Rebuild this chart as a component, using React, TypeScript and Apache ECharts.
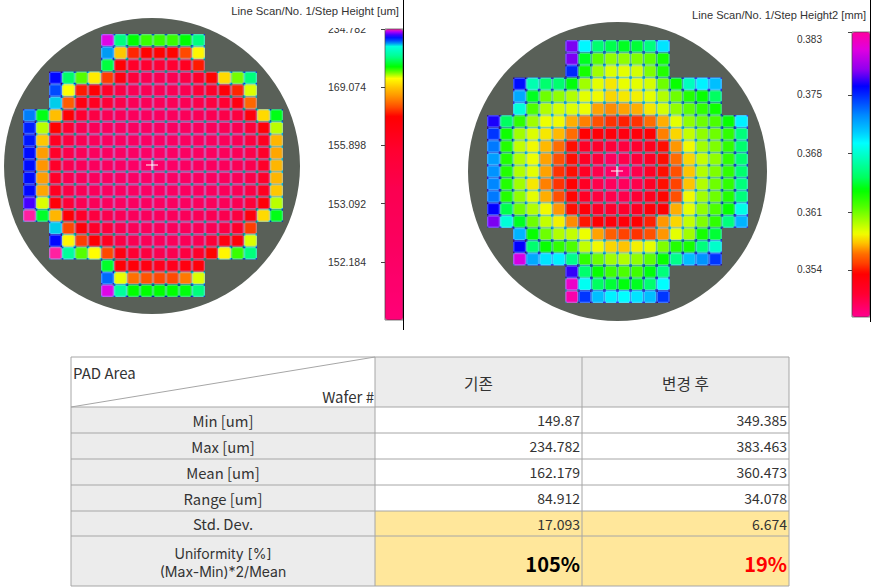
import React, { useEffect, useRef } from "react";
import * as echarts from "echarts";

// Each cell is its position on the wafer's own colour bar: 0 = bottom of the bar, 100 = top.
const leftLevels: number[][] = [
  [99.6, 90, 87, 86, 86, 86, 87, 90],
  [95, 80, 71.5, 70, 70, 70, 73, 82.5],
  [88.5, 69, 60, 58, 56, 58, 62, 71],
  [97.3, 89.5, 85.5, 82, 72.5, 66, 55, 45, 45, 45, 50, 60, 70, 81, 85, 90],
  [96, 83, 71, 69, 60, 50, 40, 40, 40, 40, 45, 55, 60, 68, 71.5, 83.5],
  [94.5, 74, 66, 62, 56, 48, 38, 36, 36, 38, 40, 48, 52, 58, 66, 74.5],
  [95.3, 87.5, 79.5, 69, 58, 50, 40, 35, 30, 28, 28, 30, 34, 38, 42, 48, 52, 67, 81, 87.5],
  [96.8, 84, 70, 58, 46, 38, 30, 28, 26, 24, 24, 26, 28, 30, 34, 40, 44, 55, 68, 84],
  [97, 80, 62, 52, 42, 34, 28, 26, 24, 22, 22, 24, 26, 28, 30, 34, 40, 52, 62, 79],
  [97.2, 77.5, 60, 48, 38, 30, 26, 24, 22, 20, 20, 22, 24, 26, 28, 32, 38, 48, 60, 78],
  [97.2, 77, 60, 46, 36, 30, 26, 22, 20, 18, 18, 20, 24, 26, 28, 32, 38, 46, 60, 79],
  [97.2, 77.5, 60, 46, 38, 30, 26, 24, 22, 20, 20, 22, 24, 26, 28, 32, 38, 48, 60, 79],
  [97.3, 78, 62, 50, 40, 32, 28, 26, 24, 22, 22, 24, 26, 28, 30, 34, 40, 50, 62, 80],
  [98, 83.5, 68, 56, 44, 36, 30, 28, 26, 26, 26, 26, 28, 30, 32, 36, 42, 55, 68, 84],
  [100, 88, 79, 69, 60, 52, 46, 38, 32, 30, 30, 32, 34, 38, 42, 46, 52, 67, 81, 87.5],
  [94.5, 73, 68, 60, 54, 46, 38, 34, 32, 32, 34, 38, 42, 50, 60, 72.5],
  [97.3, 82.5, 72.5, 69.5, 62, 50, 44, 38, 34, 34, 38, 44, 56, 66, 68, 83.5],
  [100, 91, 85.5, 83, 73, 66, 58, 52, 46, 46, 52, 60, 70, 82.5, 86, 90],
  [88, 69, 68, 66, 63, 63, 66, 68],
  [95.5, 83.3, 75, 73.5, 73, 73, 75.5, 83.5],
  [99.6, 91, 87, 87, 87, 87, 87.3, 90],
];

const rightLevels: number[][] = [
  [86, 61.5, 50, 48, 46, 47, 51, 63],
  [86, 46, 38, 35, 35, 36, 38, 43],
  [78, 43, 34, 30.5, 30, 31, 36, 42],
  [80, 55, 50, 50, 45, 34, 30, 28, 29.7, 30, 31, 37, 44, 56, 62, 66],
  [68, 46, 37, 35, 33, 30, 29, 27, 28, 28.5, 30, 33, 37, 42, 44, 49],
  [58, 39, 33, 31, 30.5, 29.5, 24.5, 23.5, 24.5, 25, 28, 31, 35, 38, 41, 43.5],
  [82, 49, 41, 34, 29.5, 29, 25, 23, 20, 18, 17, 18, 22, 25, 30, 35, 37, 39, 44, 62],
  [77, 43.5, 34, 30.5, 28, 25.5, 22, 15, 14.5, 14, 13, 14, 15, 23, 27, 32, 35, 37, 41, 51],
  [72, 42, 32, 29, 25.5, 22, 16, 10, 9, 7.5, 7, 8.5, 11, 16, 24, 29, 34, 36, 41, 50],
  [69, 42, 33, 29.5, 24.5, 20, 16, 10, 7.5, 4.5, 6, 7.5, 10, 16, 22, 27, 32, 35, 41, 50],
  [70, 42, 33, 30, 24.5, 18, 16, 10, 6, 4, 3, 6, 10, 16, 20, 26, 33, 36, 41, 50],
  [71, 42, 34, 28, 23, 18, 15, 10, 6, 4.5, 4.5, 6, 10, 16, 19, 26, 33, 37, 41, 51],
  [72, 42, 35, 30, 25, 20, 15.5, 10, 7, 6, 6, 8, 11, 15.5, 20, 29, 34, 37, 42, 51],
  [81, 48, 37, 33, 29, 24, 16, 14, 10, 9, 9, 10.5, 14, 15, 25, 30, 35, 39, 44, 59],
  [86, 58, 46, 37, 32, 28.5, 23.5, 16.5, 15, 14, 14, 15, 17, 24, 27, 32, 36, 41, 51, 67],
  [67, 44, 37, 33, 32, 29.5, 24.5, 21, 19, 18, 20, 24, 30, 34, 43, 47],
  [81, 50, 44, 41, 39, 32, 29, 27, 26, 28.5, 30, 36, 42, 43, 51, 57],
  [93, 68, 63, 62, 52, 41, 37, 34, 33, 35, 38, 44, 52, 66, 70, 77],
  [83, 50, 44, 40, 39, 40, 45, 51],
  [96, 60, 49, 47, 45, 46, 50, 61],
  [99, 77, 66, 62, 61, 63, 66, 77],
];

const leftTickLabels = ["152.184", "153.092", "155.898", "169.074", "234.782"];
const leftTickPositions = [20, 40, 60, 80, 100];
const rightTickLabels = ["0.354", "0.361", "0.368", "0.375", "0.383"];
const rightTickPositions = [16.5, 36.8, 57.4, 77.9, 100];

const leftTitle = "Line Scan/No. 1/Step Height [um]";
const rightTitle = "Line Scan/No. 1/Step Height2 [mm]";

const tableCorner = ["PAD Area", "Wafer #"];
const tableHeaders = ["기존", "변경 후"];
const tableLabels = ["Min [um]", "Max [um]", "Mean [um]", "Range [um]", "Std. Dev."];
const beforeValues = ["149.87", "234.782", "162.179", "84.912", "17.093"];
const afterValues = ["349.385", "383.463", "360.473", "34.078", "6.674"];
const uniformityLabel = ["Uniformity [%]", "(Max-Min)*2/Mean"];
const uniformityBefore = "105%";
const uniformityAfter = "19%";

type Stop = [number, string];
const leftStops: Stop[] = [
  [0, "#ff0078"], [25, "#fb0060"], [45, "#fb0050"], [58.4, "#ff0030"], [69.9, "#ff0000"], [73.3, "#ff5000"],
  [76.7, "#ff9000"], [79.6, "#ffc000"], [83, "#ffff00"], [85.3, "#60ff00"], [87, "#00ff00"],
  [90.5, "#00ff90"], [94, "#00ffe0"], [95.6, "#0060ff"], [97.4, "#0000ff"], [98.5, "#8000ff"],
  [99.6, "#e000f0"], [100, "#ff20a0"],
];
const rightStops: Stop[] = [
  [0, "#ff0090"], [8.2, "#ff0030"], [15.2, "#ff0000"], [18.8, "#ff4000"], [22.3, "#ff7000"],
  [25.8, "#ffc000"], [29.3, "#f0ff00"], [34, "#a0ff00"], [38.7, "#50ff00"], [44.5, "#00ff00"],
  [49, "#00ff60"], [55, "#00ffb0"], [61, "#00ffff"], [64.5, "#00d0ff"], [70.3, "#0090ff"],
  [76.2, "#0040ff"], [80.9, "#0000ff"], [86.8, "#9000f0"], [93.8, "#e000e0"], [100, "#ff00a0"],
];

function ramp(stops: Stop[], n = 400): string[] {
  const out: string[] = [];
  for (let i = 0; i <= n; i++) {
    const p = (i / n) * 100;
    let k = 0;
    while (k < stops.length - 2 && stops[k + 1][0] < p) k++;
    const [p0, c0] = stops[k];
    const [p1, c1] = stops[k + 1];
    const t = Math.min(1, Math.max(0, (p - p0) / (p1 - p0)));
    const a = echarts.color.parse(c0);
    const b = echarts.color.parse(c1);
    out.push(`rgb(${[0, 1, 2].map((j) => Math.round(a[j] + (b[j] - a[j]) * t)).join(",")})`);
  }
  return out;
}

const cols = Array.from({ length: 20 }, (_, i) => String(i));
const rowsCat = Array.from({ length: 21 }, (_, i) => String(i));
function toCells(rows: number[][]) {
  const out: number[][] = [];
  rows.forEach((row, y) => {
    const start = (20 - row.length) / 2;
    row.forEach((v, i) => out.push([start + i, y, v]));
  });
  return out;
}

function renderCell(_: unknown, api: any) {
  const [cx, cy] = api.coord([api.value(0), api.value(1)]);
  const [w, h] = api.size([1, 1]);
  const [r, g, b] = echarts.color.parse(api.visual("color"));
  const x = cx - w / 2;
  const y = cy - h / 2;
  const cross = `rgb(${Math.round(b * 0.2)},${Math.round(r * 0.6 + g * 0.2)},${Math.round(r * 0.45 + g * 0.65 + b * 0.4)})`;
  const edge = `rgb(${Math.round(r * 0.6 + 60)},${Math.round(g * 0.6 + 80)},${Math.round(b * 0.6 + 110)})`;
  const inset = 1.35;
  return {
    type: "group",
    silent: true,
    children: [
      { type: "rect", shape: { x, y, width: w, height: h }, style: { fill: cross } },
      { type: "rect", shape: { x: x + inset, y, width: w - 2 * inset, height: h }, style: { fill: edge } },
      { type: "rect", shape: { x, y: y + inset, width: w, height: h - 2 * inset }, style: { fill: edge } },
      { type: "rect", shape: { x: x + inset, y: y + inset, width: w - 2 * inset, height: h - 2 * inset }, style: { fill: `rgb(${r},${g},${b})` } },
    ],
  };
}

const LINE = "#a6a6a6";
const GRAY = "#ececec";
const YELLOW = "#ffe79b";
const TXT = "#333";
const FONT = '"Noto Sans CJK KR", "Noto Sans", sans-serif';
const colX = [71, 375, 582, 789];
const rowY = [357, 407, 433, 459, 485, 511, 536, 586];

function tableElements() {
  const els: any[] = [];
  const rect = (x: number, y: number, w: number, h: number, fill: string) =>
    els.push({ type: "rect", z: 5, shape: { x, y, width: w, height: h }, style: { fill } });
  const line = (x1: number, y1: number, x2: number, y2: number, w = 1) =>
    els.push({ type: "line", z: 6, shape: { x1, y1, x2, y2 }, style: { stroke: LINE, lineWidth: w } });
  const text = (x: number, y: number, t: string, align: string, size = 14, extra: any = {}) =>
    els.push({
      type: "text", z: 7, x, y,
      style: { text: t, align, verticalAlign: "middle", fontFamily: FONT, fontSize: size, fill: TXT, ...extra },
    });

  rect(colX[1], rowY[0], colX[3] - colX[1], rowY[1] - rowY[0], GRAY);
  rect(colX[0], rowY[1], colX[1] - colX[0], rowY[7] - rowY[1], GRAY);
  rect(colX[1], rowY[5], colX[3] - colX[1], rowY[7] - rowY[5], YELLOW);
  rowY.forEach((y) => line(colX[0], y, colX[3], y));
  colX.forEach((x) => line(x, rowY[0], x, rowY[7]));
  line(colX[0], rowY[1], colX[1], rowY[0]);

  text(73, 372, tableCorner[0], "left", 15);
  text(374, 396, tableCorner[1], "right", 15);
  tableHeaders.forEach((t, i) => text((colX[i + 1] + colX[i + 2]) / 2, 383, t, "center", 15.7));
  tableLabels.forEach((t, i) => {
    const cy = (rowY[i + 1] + rowY[i + 2]) / 2;
    text((colX[0] + colX[1]) / 2, cy, t, "center", 14.8);
    text(colX[2] - 2, cy, beforeValues[i], "right");
    text(colX[3] - 2, cy, afterValues[i], "right");
  });
  const uy = (rowY[6] + rowY[7]) / 2;
  uniformityLabel.forEach((t, i) =>
    text((colX[0] + colX[1]) / 2, uy - 8 + i * 18, t, "center", 14, { fontFamily: "Inter, sans-serif" })
  );
  text(colX[2] - 2, uy + 2, uniformityBefore, "right", 20, { fontWeight: "bold", fill: "#000" });
  text(colX[3] - 2, uy + 2, uniformityAfter, "right", 20, { fontWeight: "bold", fill: "#ff0000" });
  return els;
}

function plus(x: number, y: number) {
  return [
    { type: "line", z: 8, shape: { x1: x - 6, y1: y, x2: x + 6, y2: y }, style: { stroke: "#fff", lineWidth: 1 } },
    { type: "line", z: 8, shape: { x1: x, y1: y - 5, x2: x, y2: y + 5 }, style: { stroke: "#fff", lineWidth: 1 } },
  ];
}
function caption(x: number, y: number, t: string, size: number) {
  return {
    type: "text", z: 9, x, y,
    style: { text: t, align: "right", verticalAlign: "middle", fontFamily: '"Liberation Sans", Arial, sans-serif', fontSize: size, fill: "#333" },
  };
}

const LB = { x: 385, y: 29, w: 18, h: 291 };
const RB = { x: 852, y: 32, w: 18, h: 285 };
const LG = { x: 23, y: 34, w: 260, h: 263 };
const RG = { x: 487, y: 40, w: 261, h: 263 };

function tickAxis(gridIndex: number, positions: number[], labels: string[], fontSize: number, margin: number, maxAlign?: string) {
  return {
    type: "value", gridIndex, min: 0, max: 100,
    axisLine: { show: false },
    splitLine: { show: false },
    axisTick: { show: true, length: 4, lineStyle: { color: "#444" }, customValues: positions },
    axisLabel: {
      show: true, color: "#333", fontSize, margin,
      padding: [2, 0, 0, 0],
      fontFamily: '"Liberation Sans", Arial, sans-serif',
      customValues: positions,
      verticalAlignMaxLabel: maxAlign,
      formatter: (v: number) => labels[positions.indexOf(v)] ?? "",
    },
  };
}

export default function App() {
  const ref = useRef<HTMLDivElement>(null);
  useEffect(() => {
    const chart = echarts.init(ref.current!, null, { renderer: "svg" });
    const hiddenCat = (gridIndex: number, data: string[], inverse = false) => ({
      type: "category", gridIndex, data, show: false, inverse,
    });
    const hiddenVal = (gridIndex: number) => ({ type: "value", gridIndex, show: false, min: 0, max: 1 });
    const grid = (b: { x: number; y: number; w: number; h: number }) => ({
      left: b.x, top: b.y, width: b.w, height: b.h, containLabel: false,
    });
    chart.setOption({
      animation: false,
      backgroundColor: "#fff",
      tooltip: { show: false },
      grid: [grid(LG), grid(RG), grid(LB), grid(RB)],
      xAxis: [hiddenCat(0, cols), hiddenCat(1, cols), hiddenVal(2), hiddenVal(3)],
      yAxis: [
        hiddenCat(0, rowsCat, true),
        hiddenCat(1, rowsCat, true),
        tickAxis(2, leftTickPositions, leftTickLabels, 10.5, 19),
        tickAxis(3, rightTickPositions, rightTickLabels, 10, 30, "top"),
      ],
      visualMap: [
        {
          type: "continuous", seriesIndex: 0, dimension: 2, min: 0, max: 100, left: LB.x, top: LB.y,
          itemWidth: LB.w, itemHeight: LB.h, padding: 0, calculable: false, realtime: false, hoverLink: false,
          text: undefined, inRange: { color: ramp(leftStops) },
        },
        {
          type: "continuous", seriesIndex: 1, dimension: 2, min: 0, max: 100, left: RB.x, top: RB.y,
          itemWidth: RB.w, itemHeight: RB.h, padding: 0, calculable: false, realtime: false, hoverLink: false,
          text: undefined, inRange: { color: ramp(rightStops) },
        },
      ],
      series: [
        { type: "custom", xAxisIndex: 0, yAxisIndex: 0, data: toCells(leftLevels), encode: { x: 0, y: 1 }, renderItem: renderCell, z: 3, silent: true },
        { type: "custom", xAxisIndex: 1, yAxisIndex: 1, data: toCells(rightLevels), encode: { x: 0, y: 1 }, renderItem: renderCell, z: 3, silent: true },
      ],
      graphic: {
        elements: [
          { type: "circle", z: 0, shape: { cx: 152, cy: 166, r: 148 }, style: { fill: "#596058" } },
          { type: "circle", z: 0, shape: { cx: 617.5, cy: 171.5, r: 149.5 }, style: { fill: "#596058" } },
          ...plus(152, 165),
          ...plus(617, 171),
          { type: "rect", z: 6, shape: { x: 320, y: 18, width: 50, height: 10 }, style: { fill: "#fff" } },
          caption(399, 11, leftTitle, 11.3),
          caption(866, 15, rightTitle, 11.1),
          { type: "rect", z: 7, shape: { x: LB.x, y: LB.y, width: LB.w, height: LB.h }, style: { fill: "none", stroke: "#444", lineWidth: 0.7 } },
          { type: "rect", z: 7, shape: { x: RB.x, y: RB.y, width: RB.w, height: RB.h }, style: { fill: "none", stroke: "#444", lineWidth: 0.7 } },
          { type: "line", z: 8, shape: { x1: 403.5, y1: 0, x2: 403.5, y2: 330 }, style: { stroke: "#000", lineWidth: 1 } },
          { type: "line", z: 8, shape: { x1: 870.5, y1: 0, x2: 870.5, y2: 322 }, style: { stroke: "#000", lineWidth: 1 } },
          ...tableElements(),
        ],
      },
    });
    return () => chart.dispose();
  }, []);
  return <div ref={ref} style={{ position: "absolute", left: 0, top: 0, width: 872, height: 588 }} />;
}
